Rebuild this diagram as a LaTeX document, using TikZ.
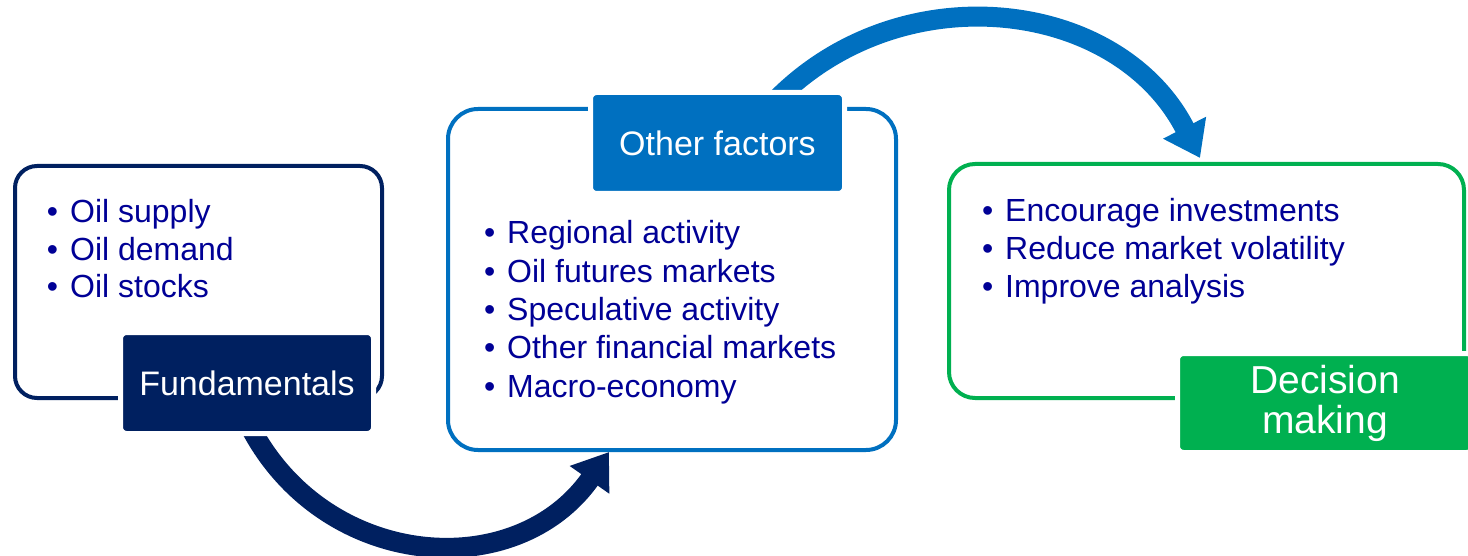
\documentclass[tikz,border=0pt]{standalone}
\usepackage{fontspec}
\setmainfont{Liberation Sans}
\usetikzlibrary{arrows.meta,calc}
\definecolor{navy}{RGB}{0,32,96}
\definecolor{oblue}{RGB}{0,112,192}
\definecolor{ogreen}{RGB}{0,176,80}
\definecolor{itemtxt}{RGB}{0,0,150}
\begin{document}
\begin{tikzpicture}[x=1pt,y=1pt,
  boxframe/.style={draw, line width=4pt, rounded corners=#1, inner sep=0pt, fill=white},
  labeltag/.style={fill=#1, draw=white, line width=5pt, rounded corners=6pt, text=white, inner sep=0pt, align=center},
  bulletitem/.style={anchor=base west, inner sep=0pt, text=itemtxt, font=\fontsize{32}{38}\selectfont},
  flowarrow/.style={line width=20pt, -{Triangle[length=34pt,width=46pt]}},
]
\useasboundingbox (0,0) rectangle (1468,-556);

% frames
\node[boxframe=22pt, draw=navy, minimum width=367pt, minimum height=232pt] (b1) at (198.5,-282) {};
\node[boxframe=30pt, draw=oblue, minimum width=448pt, minimum height=341pt] (b2) at (672,-279.5) {};
\node[boxframe=26pt, draw=ogreen, minimum width=515pt, minimum height=234pt] (b3) at (1206.5,-281) {};

% label tags (placed as coordinates first for arrows)
\coordinate (l1c) at (247,-383);
\coordinate (l2c) at (717.5,-143);

% arrows
\draw[flowarrow, navy] ($(l1c)+(4,-45.5)$) to[out=-62, in=235, looseness=1.15] ($(b2.south west)+(163,0)$);
\draw[flowarrow, oblue] ($(l2c)+(60,44.5)$) to[out=45, in=117, looseness=1.07] ($(b3.north west)+(253,4)$);

% labels
\node[labeltag=navy, minimum width=253pt, minimum height=101pt, font=\fontsize{34}{40}\selectfont] (l1) at (l1c) {Fundamentals};
\node[labeltag=oblue, minimum width=254pt, minimum height=101pt, font=\fontsize{34}{40}\selectfont] (l2) at (l2c) {Other factors};
\node[labeltag=ogreen, minimum width=295pt, minimum height=99pt, font=\fontsize{39}{40}\selectfont] (l3) at (1325,-403) {Decision\\making};

% bullet lists
\foreach \t [count=\i] in {Oil supply, Oil demand, Oil stocks}
  \node[bulletitem] (fa\i) at (70,{-223-37.5*(\i-1)}) {\llap{\textbullet\hspace{12pt}}\t};
\foreach \t [count=\i] in {Regional activity, Oil futures markets, Speculative activity, Other financial markets, Macro-economy}
  \node[bulletitem] (ot\i) at (507,{-244-38.25*(\i-1)}) {\llap{\textbullet\hspace{12pt}}\t};
\foreach \t [count=\i] in {Encourage investments, Reduce market volatility, Improve analysis}
  \node[bulletitem] (dm\i) at (1005,{-222-38*(\i-1)}) {\llap{\textbullet\hspace{12pt}}\t};
\end{tikzpicture}
\end{document}
